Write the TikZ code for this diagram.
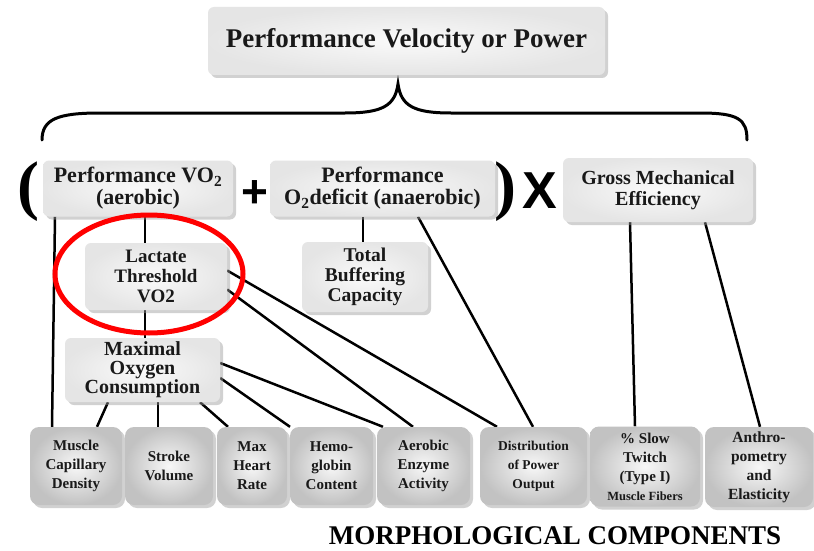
\documentclass[tikz,border=0pt]{standalone}
\usepackage{fontspec}
\setmainfont{Liberation Serif}
\newfontfamily\sansb{Liberation Sans}
\usetikzlibrary{shadows}
\pgfdeclarelayer{bg}
\pgfdeclarelayer{lines}
\pgfsetlayers{bg,lines,main}
\newcommand{\fs}[2]{\fontsize{#1}{#2}\selectfont\bfseries}
\begin{document}
\begin{tikzpicture}[x=1pt,y=-1pt,
  boxbase/.style={inner sep=0pt, align=center, text=black!90,
    drop shadow={shadow xshift=3pt, shadow yshift=-3pt, opacity=0.45, fill=gray!80}},
  topbox/.style={boxbase, rounded corners=6pt, shade, inner color=gray!4, outer color=gray!20},
  lowbox/.style={boxbase, rounded corners=9pt, shade, inner color=gray!6, outer color=gray!48,
    minimum height=78pt, font=\fs{15}{19}},
  conn/.style={line width=2.5pt, black},
  symb/.style={inner sep=0pt, text=black}
]
\begin{pgfonlayer}{bg}
\fill[white] (0,0) rectangle (814,551);
\end{pgfonlayer}
\useasboundingbox (0,0) rectangle (814,551);

% top title
\node[topbox, minimum width=397pt, minimum height=68pt, font=\fs{27}{27}] (title) at (406.5,41) {Performance Velocity or Power};

% brace
\draw[line width=3pt, line cap=round] (42,140) .. controls (42,119) and (58,113) .. (100,113) -- (345,113)
  .. controls (382,113) and (395,106) .. (398,84)
  .. controls (401,106) and (414,113) .. (451,113) -- (700,113)
  .. controls (738,113) and (747,119) .. (747,140);

% second row
\node[symb, font=\fontsize{66}{66}\selectfont\bfseries] (lpar) at (28.5,192) {(};
\node[topbox, minimum width=190pt, minimum height=56pt, font=\fs{22}{22}] (aer) at (138,188.5) {Performance VO\textsubscript{2}\\(aerobic)};
\node[symb, font=\sansb\fontsize{46}{46}\selectfont\bfseries] (plus) at (255,194) {+};
\node[topbox, minimum width=225pt, minimum height=56pt, font=\fs{22}{22}] (anaer) at (382.5,188.5) {Performance\\O\textsubscript{2}deficit (anaerobic)};
\node[symb, font=\fontsize{66}{66}\selectfont\bfseries] (rpar) at (505,191.5) {)};
\node[symb, font=\sansb\fontsize{52}{52}\selectfont\bfseries] (times) at (540,191) {X};
\node[topbox, minimum width=190pt, minimum height=64pt, font=\fs{20}{21}] (gross) at (658,190) {Gross Mechanical\\Efficiency};

% third row
\node[topbox, minimum width=142pt, minimum height=67pt, font=\fs{19}{20}] (lact) at (156,276.5) {Lactate\\Threshold\\VO2};
\node[topbox, minimum width=126pt, minimum height=70pt, font=\fs{19.5}{20}] (buff) at (365,277) {Total\\Buffering\\Capacity};
\node[topbox, minimum width=155pt, minimum height=64pt, font=\fs{20}{19}] (maxo) at (142.5,370) {Maximal\\Oxygen\\Consumption};

% bottom row
\node[lowbox, minimum width=92pt] (b1) at (76,466) {Muscle\\Capillary\\Density};
\node[lowbox, minimum width=88pt] (b2) at (169,466) {Stroke\\Volume};
\node[lowbox, minimum width=70pt] (b3) at (252,466) {Max\\Heart\\Rate};
\node[lowbox, minimum width=83pt] (b4) at (331.5,466) {Hemo-\\globin\\Content};
\node[lowbox, minimum width=93pt] (b5) at (423.5,466) {Aerobic\\Enzyme\\Activity};
\node[lowbox, minimum width=107pt, font=\fs{13.5}{19}] (b6) at (533.5,466) {Distribution\\of Power\\Output};
\node[lowbox, minimum width=110pt, minimum height=80pt] (b7) at (645,466.5) {\% Slow\\Twitch\\(Type I)\\{\fs{12.5}{18}Muscle Fibers}};
\node[lowbox, minimum width=108pt, minimum height=80pt, font=\fs{15.5}{19}] (b8) at (759,467) {Anthro-\\pometry\\and\\Elasticity};

\node[symb, font=\fs{27}{27}] (morph) at (555,536) {MORPHOLOGICAL COMPONENTS};

% connectors
\begin{pgfonlayer}{lines}
\draw[conn] ([xshift=-83pt]aer.south) -- ([xshift=-24pt]b1.north);
\draw[conn] ([xshift=7pt]aer.south) -- ([xshift=-11pt]lact.north);
\draw[conn] ([xshift=-19.5pt]anaer.south) -- ([xshift=-2pt]buff.north);
\draw[conn] ([xshift=35.5pt]anaer.south) -- ([xshift=-0.5pt]b6.north);
\draw[conn] ([yshift=6pt]lact.east) -- ([xshift=-36.5pt]b6.north);
\draw[conn] ([yshift=-13pt]lact.east) -- ([xshift=-10.5pt]b5.north);
\draw[conn] ([xshift=-11pt]lact.south) -- ([xshift=2.5pt]maxo.north);
\draw[conn] ([yshift=7pt]maxo.east) -- ([xshift=-40.5pt]b5.north);
\draw[conn] ([yshift=-8pt]maxo.east) -- ([xshift=-41.5pt]b4.north);
\draw[conn] ([xshift=57.5pt]maxo.south) -- ([xshift=-24pt]b3.north);
\draw[conn] ([xshift=15.5pt]maxo.south) -- ([xshift=-11pt]b2.north);
\draw[conn] ([xshift=-34.5pt]maxo.south) -- ([xshift=21pt]b1.north);
\draw[conn] ([xshift=-28pt]gross.south) -- ([xshift=-10pt]b7.north);
\draw[conn] ([xshift=47pt]gross.south) -- ([xshift=1pt]b8.north);
\end{pgfonlayer}

% highlight
\draw[red, line width=5pt] (149,274) ellipse [x radius=94, y radius=59];
\end{tikzpicture}
\end{document}
